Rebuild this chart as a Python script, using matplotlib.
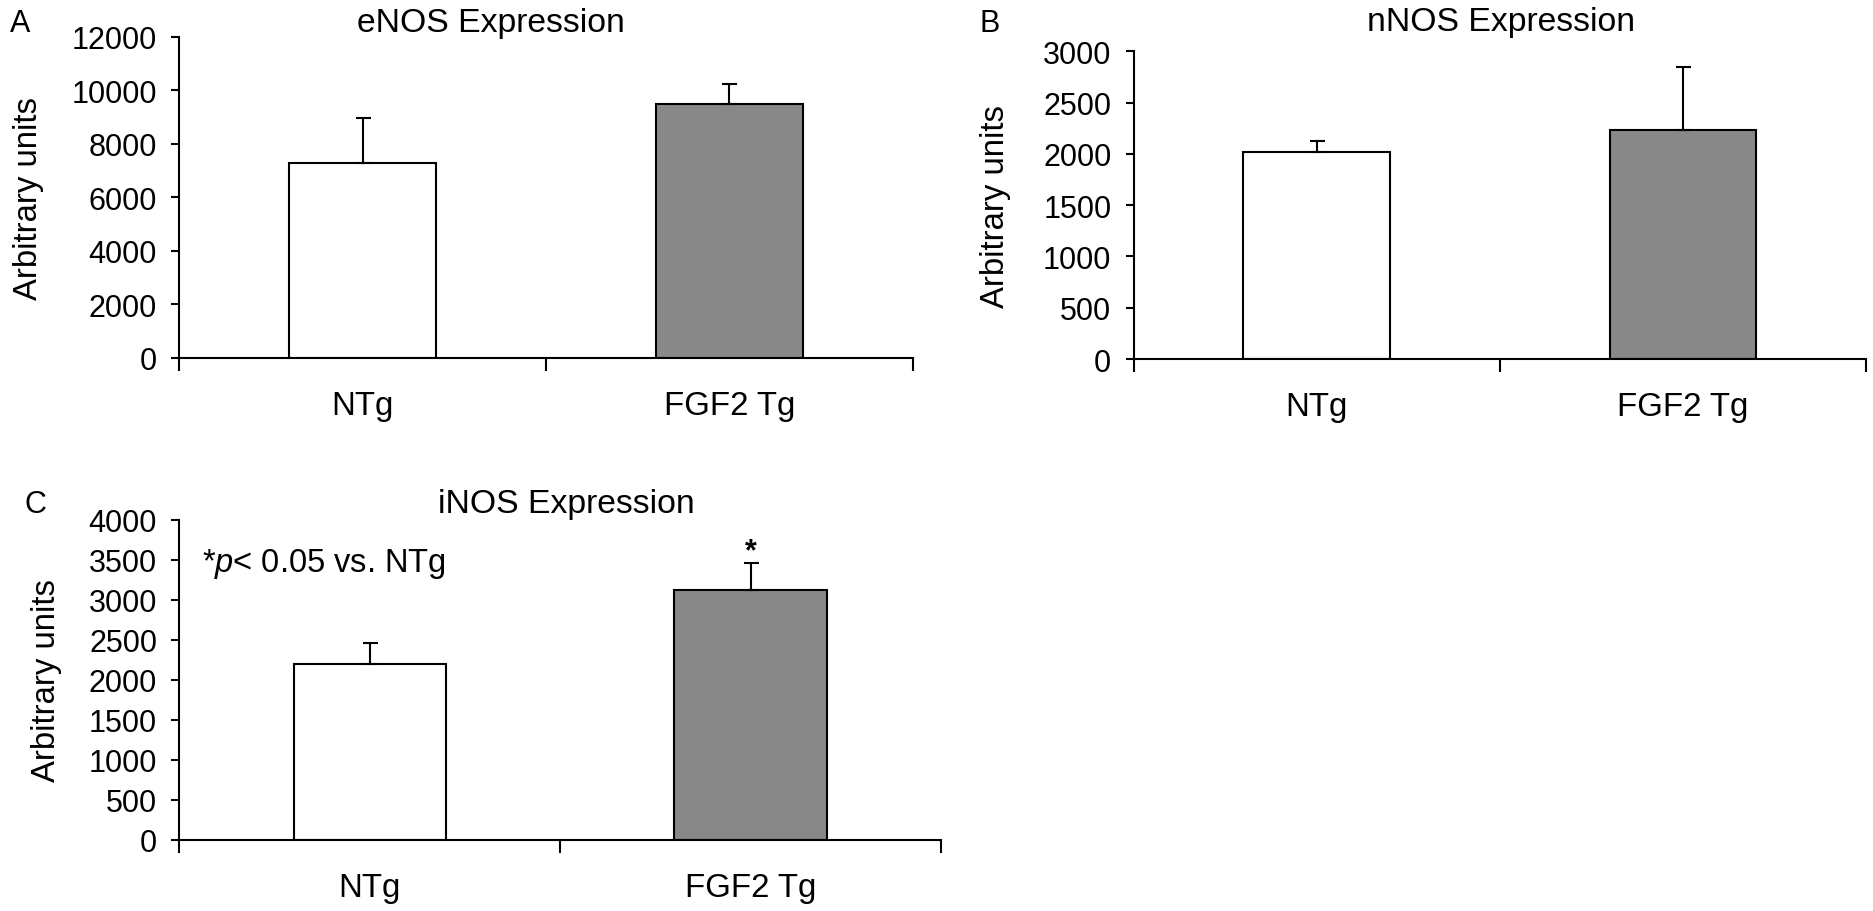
# Three bar panels: eNOS / nNOS / iNOS expression, NTg vs FGF2 Tg
import matplotlib
matplotlib.use('Agg')
import matplotlib.pyplot as plt
import matplotlib.transforms as mtransforms
from matplotlib.ticker import FixedLocator

plt.rcParams['font.family'] = ['Liberation Sans', 'DejaVu Sans']
plt.rcParams['mathtext.fontset'] = 'custom'
plt.rcParams['mathtext.rm'] = 'Liberation Sans'
plt.rcParams['mathtext.it'] = 'Liberation Sans:italic'

# data
groups = ['NTg', 'FGF2 Tg']
bar_colors = ['white', '#888888']

enos_mean = [7270, 9470]
enos_err = [1700, 760]
nnos_mean = [2020, 2230]
nnos_err = [105, 620]
inos_mean = [2195, 3120]
inos_err = [265, 335]

enos_ticks = [0, 2000, 4000, 6000, 8000, 10000, 12000]
nnos_ticks = [0, 500, 1000, 1500, 2000, 2500, 3000]
inos_ticks = [0, 500, 1000, 1500, 2000, 2500, 3000, 3500, 4000]

W, H = 1873, 912
fig = plt.figure(figsize=(W / 100, H / 100), dpi=100)


def px_axes(left, right, top, bottom):
    # axes rectangle given in pixels (y measured from the top)
    return fig.add_axes([left / W, 1 - bottom / H, (right - left) / W, (bottom - top) / H])


def panel(ax, means, errs, ticks, ylabel_x):
    x = list(range(len(groups)))
    ax.bar(x, means, width=0.4, color=bar_colors, edgecolor='black', linewidth=1.5, zorder=2)
    ax.errorbar(x, means, yerr=[[0] * len(errs), errs], fmt='none', ecolor='black',
                elinewidth=1.5, capsize=5.4, capthick=1.5, zorder=3)
    ax.set_xlim(-0.5, len(groups) - 0.5)
    ax.set_ylim(ticks[0], ticks[-1])
    ax.set_yticks(ticks)
    ax.set_xticks(x)
    ax.set_xticklabels(groups)
    # category boundary ticks below the axis
    ax.xaxis.set_minor_locator(FixedLocator([i - 0.5 for i in range(len(groups) + 1)]))
    ax.tick_params(axis='x', which='major', length=0, labelsize=23.8, pad=23)
    ax.tick_params(axis='x', which='minor', length=9, width=1.5, direction='out')
    ax.tick_params(axis='y', length=6, width=1.5, direction='out', labelsize=22, pad=10)
    for s in ['top', 'right']:
        ax.spines[s].set_visible(False)
    for s in ['left', 'bottom']:
        ax.spines[s].set_linewidth(1.5)
    ax.set_ylabel('Arbitrary units', fontsize=23.7)
    # ylabel x given in figure pixels (right edge of the rotated label)
    tr = mtransforms.blended_transform_factory(fig.transFigure, ax.transAxes)
    ax.yaxis.set_label_coords(ylabel_x / W, 0.5, transform=tr)


axA = px_axes(179.3, 912.7, 37.7, 359)
panel(axA, enos_mean, enos_err, enos_ticks, 44)
axB = px_axes(1133.5, 1866, 52.3, 360)
panel(axB, nnos_mean, nnos_err, nnos_ticks, 1011)
axC = px_axes(179.3, 941, 520.7, 840.7)
panel(axC, inos_mean, inos_err, inos_ticks, 62)

# titles and panel letters (pixel positions)
fig.text(490.5 / W, 1 - 32 / H, 'eNOS Expression', fontsize=24.3, ha='center', va='baseline')
fig.text(1501 / W, 1 - 31 / H, 'nNOS Expression', fontsize=24.3, ha='center', va='baseline')
fig.text(566 / W, 1 - 513 / H, 'iNOS Expression', fontsize=24.3, ha='center', va='baseline')
fig.text(10 / W, 1 - 32 / H, 'A', fontsize=22, ha='left', va='baseline')
fig.text(979 / W, 1 - 32 / H, 'B', fontsize=22, ha='left', va='baseline')
fig.text(25 / W, 1 - 513 / H, 'C', fontsize=22, ha='left', va='baseline')

# significance note and star on panel C
fig.text(202 / W, 1 - 571.7 / H, r'*$p$< 0.05 vs. NTg', fontsize=23.5, ha='left', va='baseline')
axC.annotate('*', xy=(1, inos_mean[1] + inos_err[1]), xytext=(0, 3), textcoords='offset points',
             ha='center', va='baseline', fontsize=22, fontweight='bold')

fig.savefig('out.png', dpi=100)
